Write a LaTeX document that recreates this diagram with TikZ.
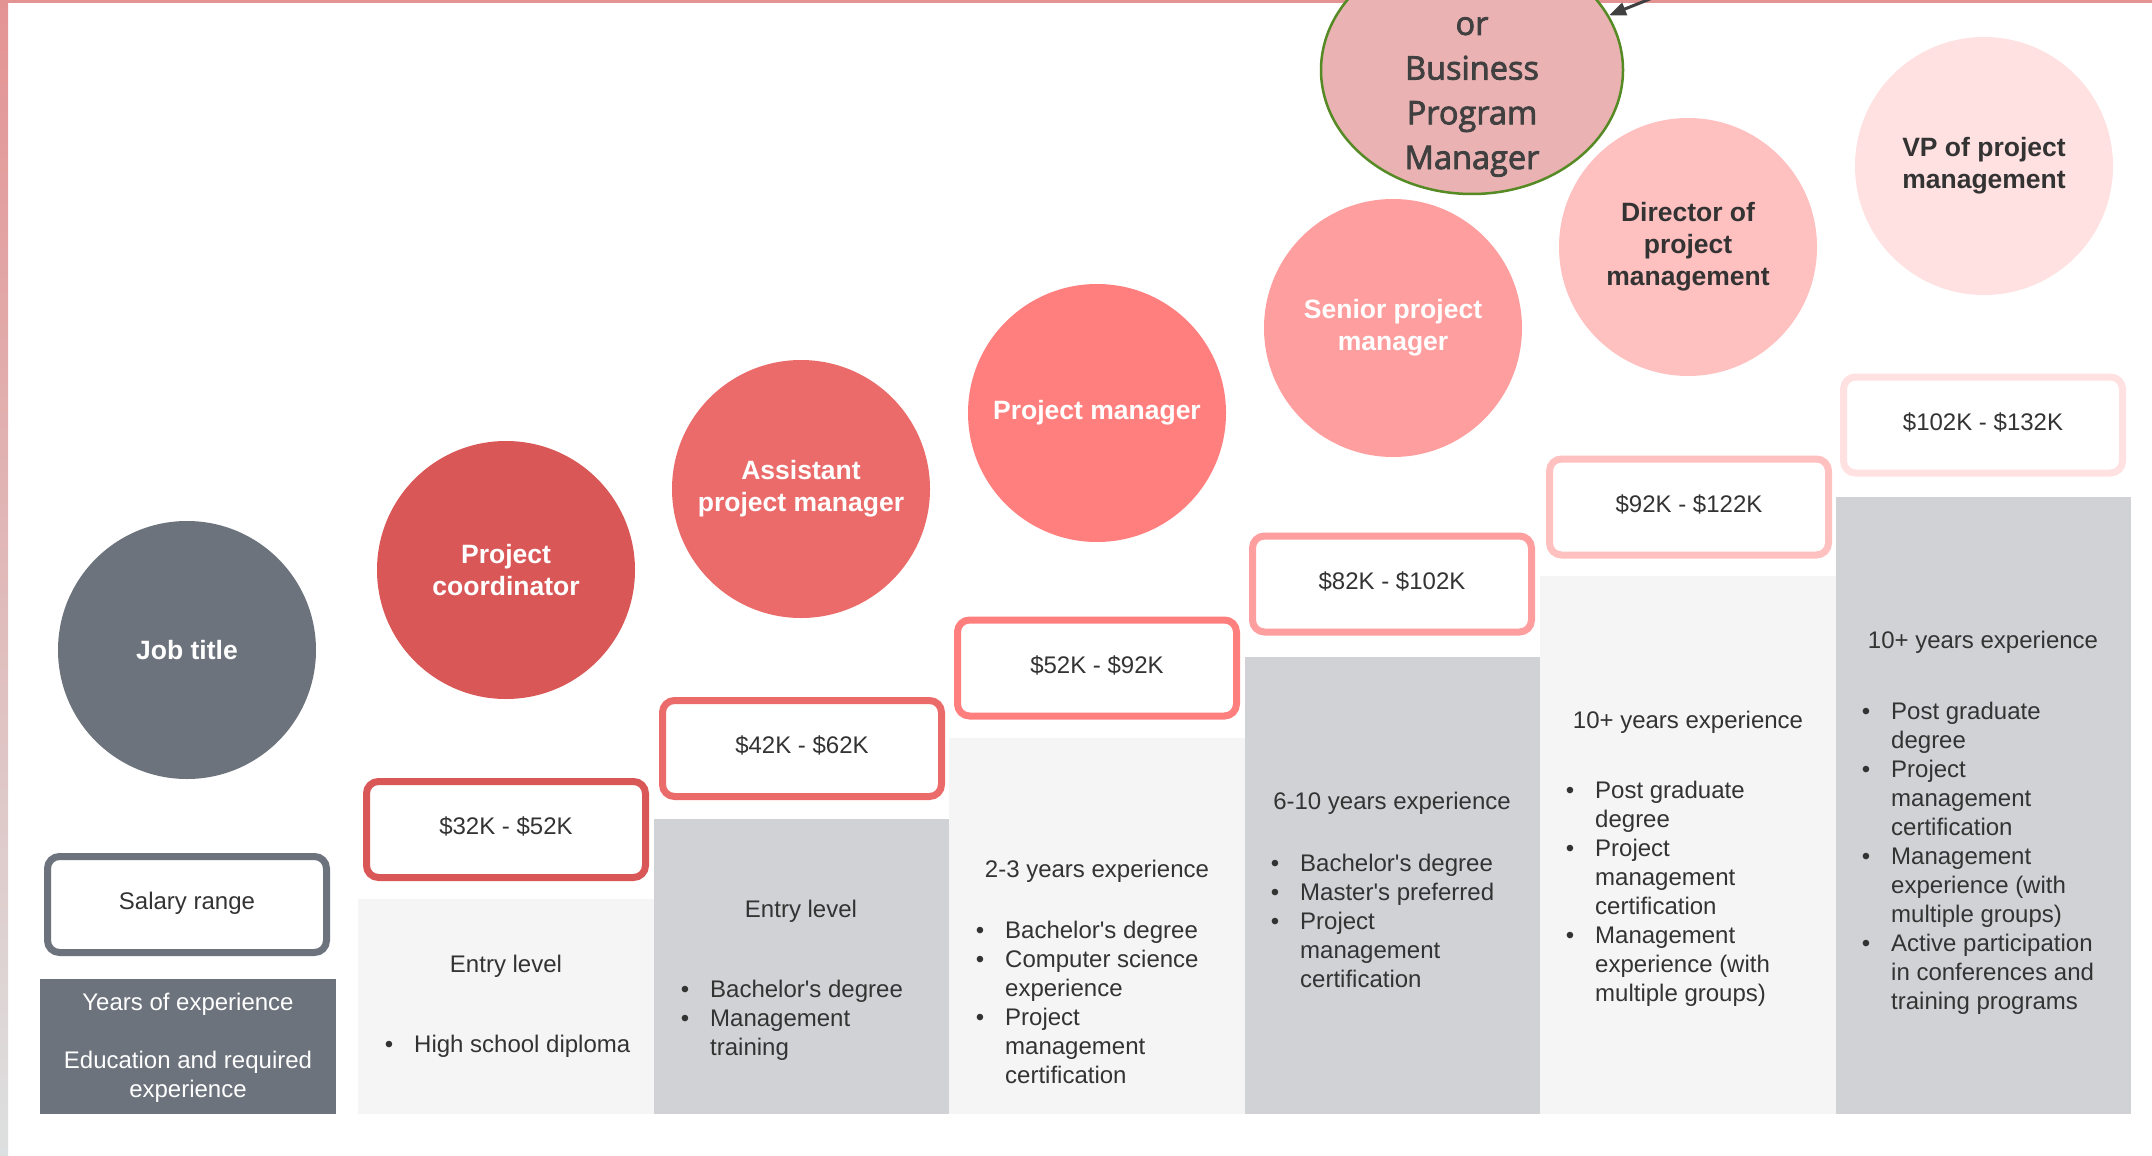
\documentclass[tikz,border=0pt]{standalone}
\usepackage{fontspec}
\setmainfont{Liberation Sans}
\newfontfamily\osans[FakeBold=2.5]{Open Sans}
\usetikzlibrary{shapes.geometric,arrows.meta}
\definecolor{jobgray}{HTML}{6C737C}
\definecolor{c1}{HTML}{D95757}
\definecolor{c2}{HTML}{EB6B6B}
\definecolor{c3}{HTML}{FF7F7F}
\definecolor{c4}{HTML}{FF9E9E}
\definecolor{c5}{HTML}{FFC0C0}
\definecolor{c6}{HTML}{FFE1E1}
\definecolor{bpmfill}{HTML}{EAB2B2}
\definecolor{bpmline}{HTML}{558A24}
\definecolor{lightbg}{HTML}{F5F5F5}
\definecolor{midbg}{HTML}{D1D2D5}
\definecolor{txt}{HTML}{333333}
\definecolor{arr}{HTML}{404040}
\definecolor{edgepink}{HTML}{E49393}
\definecolor{edgegray}{HTML}{DDE0E0}
\newcommand{\bul}{\llap{\textbullet\hspace{21pt}}}
\newcommand{\apos}{\textquotesingle}
\tikzset{
  bodyfont/.style={font=\fontsize{24}{29}\selectfont},
  circ/.style={circle, minimum size=258pt, inner sep=0pt, align=center,
    font=\bfseries\fontsize{26.5}{32}\selectfont, text=white},
  sal/.style={draw, line width=7pt, rounded corners=12pt, fill=white,
    minimum width=279pt, minimum height=96pt, inner sep=0pt, bodyfont, text=txt,
    text height=12.5pt, text depth=2.4pt},
  hdr/.style={anchor=base, inner sep=0pt, bodyfont, text=txt},
  lst/.style={anchor=base west, align=left, inner sep=0pt, bodyfont, text=txt},
  arrowline/.style={draw=arr, line width=3pt, -{Triangle[length=17pt,width=13pt]}}
}
\begin{document}
\begin{tikzpicture}[x=1pt,y=-1pt]
\useasboundingbox (0,0) rectangle (2152,1156);
\clip (0,0) rectangle (2152,1156);
\fill[white] (0,0) rectangle (2152,1156);
% frame
\shade[top color=edgepink, bottom color=edgegray] (0,0) rectangle (8,1156);
\fill[edgepink] (0,0) rectangle (2152,3);
% column backgrounds
\fill[lightbg] (358,899) rectangle (653.5,1114);
\fill[midbg] (653.5,819) rectangle (949,1114);
\fill[lightbg] (949,738) rectangle (1244.5,1114);
\fill[midbg] (1244.5,657) rectangle (1540,1114);
\fill[lightbg] (1540,576) rectangle (1835.5,1114);
\fill[midbg] (1835.5,497) rectangle (2131,1114);
% legend column
\node[circ, fill=jobgray] (job) at (187,650) {Job title};
\node[sal, draw=jobgray] (salary) at (187,904.5) {Salary range};
\node[rectangle, fill=jobgray, minimum width=296pt, minimum height=135pt, inner sep=0pt] (years) at (188,1046.5) {};
\node[anchor=base, align=center, inner sep=0pt, bodyfont, text=white] (yearstxt) at (188,1097)
  {Years of experience\\[29pt]Education and required\\experience};
% circles
\node[circ, fill=c1] (pc) at (506,570) {Project\\coordinator};
\node[circ, fill=c2] (apm) at (801,489) {Assistant\\project manager};
\node[circ, fill=c3] (pm) at (1097,413) {Project manager};
\node[circ, fill=c4] (spm) at (1393,328) {Senior project\\manager};
\node[circ, fill=c5, text=txt] (dir) at (1688,247) {Director of\\project\\management};
\node[circ, fill=c6, text=txt] (vp) at (1984,166) {VP of project\\management};
% salary boxes
\node[sal, draw=c1] (s1) at (506,829.5) {\$32K - \$52K};
\node[sal, draw=c2] (s2) at (802,748.5) {\$42K - \$62K};
\node[sal, draw=c3] (s3) at (1097,668) {\$52K - \$92K};
\node[sal, draw=c4] (s4) at (1392,584) {\$82K - \$102K};
\node[sal, draw=c5] (s5) at (1689,507) {\$92K - \$122K};
\node[sal, draw=c6] (s6) at (1983,425) {\$102K - \$132K};
% column texts
\node[hdr] (h1) at (506,972) {Entry level};
\node[lst] (l1) at (414,1052) {\bul High school diploma};
\node[hdr] (h2) at (801,917) {Entry level};
\node[lst] (l2) at (710,1055) {\bul Bachelor\apos s degree\\\bul Management\\training};
\node[hdr] (h3) at (1097,877) {2-3 years experience};
\node[lst] (l3) at (1005,1083) {\bul Bachelor\apos s degree\\\bul Computer science\\experience\\\bul Project\\management\\certification};
\node[hdr] (h4) at (1392,809) {6-10 years experience};
\node[lst] (l4) at (1300,987) {\bul Bachelor\apos s degree\\\bul Master\apos s preferred\\\bul Project\\management\\certification};
\node[hdr] (h5) at (1688,728) {10+ years experience};
\node[lst] (l5) at (1595,1001) {\bul Post graduate\\degree\\\bul Project\\management\\certification\\\bul Management\\experience (with\\multiple groups)};
\node[hdr] (h6) at (1983,648) {10+ years experience};
\node[lst] (l6) at (1891,1009) {\bul Post graduate\\degree\\\bul Project\\management\\certification\\\bul Management\\experience (with\\multiple groups)\\\bul Active participation\\in conferences and\\training programs};
% business program manager
\node[ellipse, draw=bpmline, line width=2.5pt, fill=bpmfill, minimum width=302pt, minimum height=248pt, inner sep=0pt] (bpm) at (1472,70) {};
\node[anchor=base, align=center, inner sep=0pt, text=arr, font=\osans\fontsize{32.5}{44.7}\selectfont] (bpmtxt) at (1472,169) {or\\Business\\Program\\Manager};
\coordinate (arrstart) at (1700,-21);
\draw[arrowline] (arrstart) -- (bpm);
\end{tikzpicture}
\end{document}
